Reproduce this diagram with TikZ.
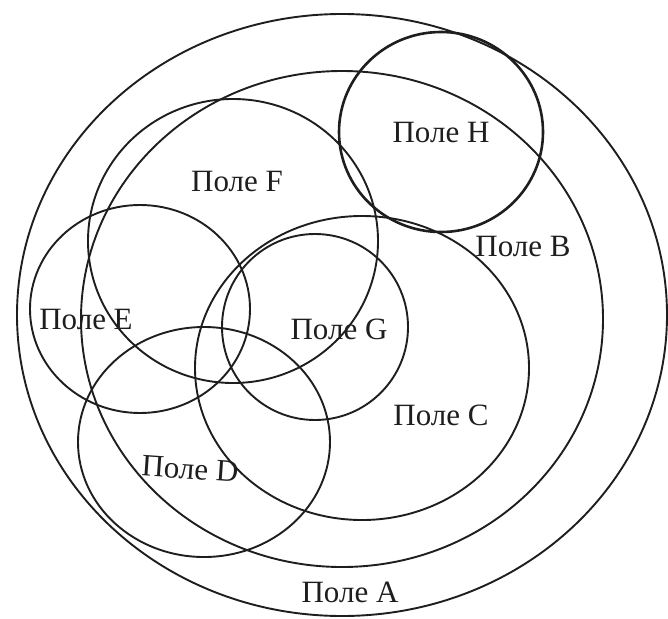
\documentclass[tikz,border=0pt]{standalone}
\usepackage{fontspec}
\setmainfont{Liberation Serif}
\definecolor{ink}{HTML}{1E1E1E}
\begin{document}
\begin{tikzpicture}[x=1pt,y=-1pt,
  field/.style={draw=ink,line width=1.9pt},
  fieldthick/.style={draw=ink,line width=2.6pt},
  lbl/.style={text=ink,inner sep=0pt,font=\fontsize{31}{36}\selectfont}]
\useasboundingbox (0,0) rectangle (668,618);
% Field A
\draw[field] (342,315) ellipse [x radius=325pt, y radius=301pt];
% Field B
\draw[field] (342,319) ellipse [x radius=261pt, y radius=248pt];
% Field C
\draw[field] (362,368) ellipse [x radius=167pt, y radius=152pt];
% Field F
\draw[field] (233,241) ellipse [x radius=145pt, y radius=142pt];
% Field E
\draw[field] (140,309) ellipse [x radius=110pt, y radius=104pt];
% Field G
\draw[field] (315,327) ellipse [x radius=93pt, y radius=93pt];
% Field D
\draw[field] (204,442) ellipse [x radius=126pt, y radius=115pt];
% Field H
\draw[fieldthick] (441,132) ellipse [x radius=102pt, y radius=100pt];
% labels
\node[lbl] (lH) at (441,133) {Поле H};
\node[lbl] (lF) at (237,181) {Поле F};
\node[lbl] (lB) at (523,246) {Поле B};
\node[lbl] (lE) at (86,319) {Поле E};
\node[lbl] (lG) at (339,329) {Поле G};
\node[lbl] (lC) at (441,415) {Поле C};
\node[lbl,rotate=-4] (lD) at (190,469) {Поле D};
\node[lbl] (lA) at (350,592) {Поле A};
\end{tikzpicture}
\end{document}
